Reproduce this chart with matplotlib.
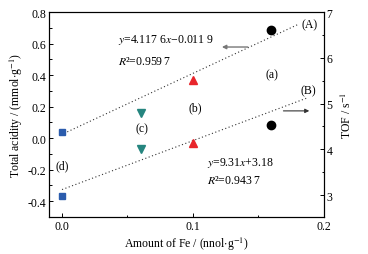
import matplotlib
matplotlib.use("Agg")
import matplotlib.pyplot as plt
from matplotlib.ticker import MultipleLocator

plt.rcParams['font.family'] = ['Liberation Serif', 'DejaVu Serif']
plt.rcParams['mathtext.fontset'] = 'stix'

# Data
fe_amount = [0.0, 0.06, 0.10, 0.16]
acidity = [0.04, 0.16, 0.37, 0.685]        # left axis (upper series)
tof = [2.99, 4.0, 4.13, 4.54]               # right axis (lower series)
markers = ['s', 'v', '^', 'o']
colors = ['#2b5cad', '#25857f', '#e8252b', '#000000']
point_labels = ['(d)', '(c)', '(b)', '(a)']

# fitted lines (endpoints as drawn)
lineA_x = [0.004, 0.18]
lineA_y = [0.04, 0.72]
lineB_x = [0.0, 0.188]
lineB_y = [3.12, 5.13]

fig = plt.figure(figsize=(3.68, 2.55), dpi=100)
ax = fig.add_axes([0.133, 0.145, 0.747, 0.804])
ax2 = ax.twinx()

fs = 8.5
ax.plot(lineA_x, lineA_y, linestyle=(0, (1, 2.2)), color='#333333', lw=0.8)
ax2.plot(lineB_x, lineB_y, linestyle=(0, (1, 2.2)), color='#333333', lw=0.8)

sizes = [5, 6, 6, 6]
for x, ya, yt, m, c, s in zip(fe_amount, acidity, tof, markers, colors, sizes):
    ax.plot([x], [ya], marker=m, color=c, ms=s, linestyle='none', zorder=5, clip_on=False)
    ax2.plot([x], [yt], marker=m, color=c, ms=s, linestyle='none', zorder=5, clip_on=False)

ax.set_xlim(-0.01, 0.2)
ax.set_ylim(-0.5, 0.8)
ax2.set_ylim(2.52, 7.0)

ax.xaxis.set_major_locator(MultipleLocator(0.1))
ax.xaxis.set_minor_locator(MultipleLocator(0.05))
ax.yaxis.set_major_locator(MultipleLocator(0.2))
ax.yaxis.set_minor_locator(MultipleLocator(0.1))
ax2.yaxis.set_major_locator(MultipleLocator(1))
ax2.yaxis.set_minor_locator(MultipleLocator(0.5))
ax.set_xticks([0.0, 0.1, 0.2])
ax.set_xticklabels(['0.0', '0.1', '0.2'])
ax.set_yticks([-0.4, -0.2, 0.0, 0.2, 0.4, 0.6, 0.8])
ax.set_yticklabels(['-0.4', '-0.2', '0.0', '0.2', '0.4', '0.6', '0.8'])

for a in (ax, ax2):
    a.tick_params(which='both', direction='in', labelsize=fs, top=False, width=0.7)
    a.tick_params(which='major', length=3)
    a.tick_params(which='minor', length=1.8)
    for sp in a.spines.values():
        sp.set_linewidth(0.8)
ax.tick_params(axis='x', pad=2)
ax.tick_params(axis='y', pad=2)
ax2.tick_params(axis='y', pad=2)

ax.set_xlabel('Amount of Fe / (nnol$\\cdot$g$^{-1}$)', fontsize=fs, labelpad=2)
ax.set_ylabel('Total acidity / (mmol$\\cdot$g$^{-1}$)', fontsize=fs, labelpad=2)
ax2.set_ylabel('TOF / s$^{-1}$', fontsize=fs, labelpad=5)

# text annotations (left-axis data coords)
ax.text(0.043, 0.629, '$y$=4.117 6$x$\u22120.011 9', fontsize=fs, va='center')
ax.text(0.043, 0.49, '$R$\u00b2=0.959 7', fontsize=fs, va='center')
ax.text(0.111, -0.149, '$y$=9.31$x$+3.18', fontsize=fs, va='center')
ax.text(0.111, -0.263, '$R$\u00b2=0.943 7', fontsize=fs, va='center')
ax.text(0.189, 0.724, '(A)', fontsize=fs, ha='center', va='center')
ax.text(0.188, 0.306, '(B)', fontsize=fs, ha='center', va='center')
label_pos = [(0.0, -0.175), (0.061, 0.06), (0.102, 0.198), (0.16, 0.407)]
for (lx, ly), t in zip(label_pos, point_labels):
    ax.text(lx, ly, t, fontsize=fs, ha='center', va='center')

ax.annotate('', xy=(0.120, 0.578), xytext=(0.144, 0.578),
            arrowprops=dict(arrowstyle='-|>', color='#777777', lw=1.0, mutation_scale=6))
ax.annotate('', xy=(0.191, 0.173), xytext=(0.167, 0.173),
            arrowprops=dict(arrowstyle='-|>', color='#333333', lw=0.8, mutation_scale=6))

fig.savefig('out.png', dpi=100)
